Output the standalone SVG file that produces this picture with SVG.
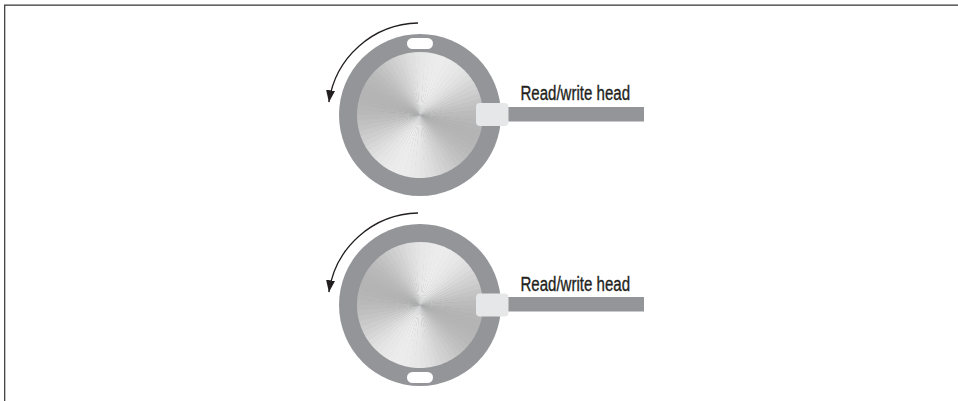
<svg xmlns="http://www.w3.org/2000/svg" width="958" height="401" viewBox="0 0 958 401">
  <style>
    .ring { fill: #939598; }
    .slot { fill: #ffffff; }
    .head { fill: #e6e7e8; }
    .arm { fill: #939598; }
    .label { font-family: "Liberation Sans", Arial, sans-serif; font-size: 19.5px; fill: #231f20; stroke: #231f20; stroke-width: 0.35; }
    .spin { fill: none; stroke: #231f20; stroke-width: 1.3; marker-end: url(#tip); }
    .frame { fill: none; stroke: #333333; stroke-width: 1.2; }
  </style>
  <defs>
    <marker id="tip" viewBox="0 0 12 9" refX="12" refY="4.5" markerWidth="12" markerHeight="9" markerUnits="userSpaceOnUse" orient="auto">
      <path d="M0,0 L12,4.5 L0,9 Z" fill="#231f20"/>
    </marker>
    <!-- one 5-degree sector of the brushed platter; colour and start angle come from each use -->
    <circle id="wedge" cx="0" cy="0" r="31.5" fill="none" stroke-width="63" pathLength="360" stroke-dasharray="5.6 354.4"/>
    <g id="half">
      <use href="#wedge" style="stroke:#b9b9b9;stroke-dashoffset:0"/>
      <use href="#wedge" style="stroke:#b7b7b7;stroke-dashoffset:-5"/>
      <use href="#wedge" style="stroke:#b5b5b5;stroke-dashoffset:-10"/>
      <use href="#wedge" style="stroke:#b4b4b4;stroke-dashoffset:-15"/>
      <use href="#wedge" style="stroke:#b4b4b4;stroke-dashoffset:-20"/>
      <use href="#wedge" style="stroke:#b5b5b5;stroke-dashoffset:-25"/>
      <use href="#wedge" style="stroke:#b7b7b7;stroke-dashoffset:-30"/>
      <use href="#wedge" style="stroke:#b9b9b9;stroke-dashoffset:-35"/>
      <use href="#wedge" style="stroke:#bcbcbc;stroke-dashoffset:-40"/>
      <use href="#wedge" style="stroke:#c0c0c0;stroke-dashoffset:-45"/>
      <use href="#wedge" style="stroke:#c4c4c4;stroke-dashoffset:-50"/>
      <use href="#wedge" style="stroke:#c9c9c9;stroke-dashoffset:-55"/>
      <use href="#wedge" style="stroke:#cecece;stroke-dashoffset:-60"/>
      <use href="#wedge" style="stroke:#d2d2d2;stroke-dashoffset:-65"/>
      <use href="#wedge" style="stroke:#d7d7d7;stroke-dashoffset:-70"/>
      <use href="#wedge" style="stroke:#dcdcdc;stroke-dashoffset:-75"/>
      <use href="#wedge" style="stroke:#e0e0e0;stroke-dashoffset:-80"/>
      <use href="#wedge" style="stroke:#e4e4e4;stroke-dashoffset:-85"/>
      <use href="#wedge" style="stroke:#e7e7e7;stroke-dashoffset:-90"/>
      <use href="#wedge" style="stroke:#e9e9e9;stroke-dashoffset:-95"/>
      <use href="#wedge" style="stroke:#ebebeb;stroke-dashoffset:-100"/>
      <use href="#wedge" style="stroke:#ececec;stroke-dashoffset:-105"/>
      <use href="#wedge" style="stroke:#ececec;stroke-dashoffset:-110"/>
      <use href="#wedge" style="stroke:#ebebeb;stroke-dashoffset:-115"/>
      <use href="#wedge" style="stroke:#e9e9e9;stroke-dashoffset:-120"/>
      <use href="#wedge" style="stroke:#e7e7e7;stroke-dashoffset:-125"/>
      <use href="#wedge" style="stroke:#e4e4e4;stroke-dashoffset:-130"/>
      <use href="#wedge" style="stroke:#e0e0e0;stroke-dashoffset:-135"/>
      <use href="#wedge" style="stroke:#dcdcdc;stroke-dashoffset:-140"/>
      <use href="#wedge" style="stroke:#d7d7d7;stroke-dashoffset:-145"/>
      <use href="#wedge" style="stroke:#d2d2d2;stroke-dashoffset:-150"/>
      <use href="#wedge" style="stroke:#cecece;stroke-dashoffset:-155"/>
      <use href="#wedge" style="stroke:#c9c9c9;stroke-dashoffset:-160"/>
      <use href="#wedge" style="stroke:#c4c4c4;stroke-dashoffset:-165"/>
      <use href="#wedge" style="stroke:#c0c0c0;stroke-dashoffset:-170"/>
      <use href="#wedge" style="stroke:#bcbcbc;stroke-dashoffset:-175"/>
    </g>
    <!-- grey rim with the brushed-metal platter inside -->
    <g id="platter">
      <circle class="ring" cx="0" cy="0" r="81"/>
      <use href="#half"/>
      <use href="#half" transform="rotate(180)"/>
    </g>
  </defs>

  <rect width="958" height="401" fill="#ffffff"/>
  <path class="frame" d="M4.7,401 V5.2 H958"/>

  <g id="disk-top">
    <use href="#platter" transform="translate(420,115)"/>
    <rect class="slot" x="407" y="38" width="26" height="11" rx="5.5"/>
    <rect class="arm" x="505" y="107" width="139" height="14.5"/>
    <rect class="head" x="476" y="103" width="32.5" height="23" rx="4"/>
    <text class="label" x="520.5" y="100" textLength="109.5" lengthAdjust="spacingAndGlyphs">Read/write head</text>
  </g>

  <g id="disk-bottom">
    <use href="#platter" transform="translate(420,305)"/>
    <rect class="slot" x="407" y="372" width="26" height="11" rx="5.5"/>
    <rect class="arm" x="505" y="297" width="139" height="14.5"/>
    <rect class="head" x="476" y="293.5" width="32.5" height="23" rx="4"/>
    <text class="label" x="520.5" y="290.5" textLength="109.5" lengthAdjust="spacingAndGlyphs">Read/write head</text>
  </g>

  <g id="connectors">
    <path class="spin" d="M418,23 A92,92 0 0 0 328.9,102.2"/>
    <path class="spin" d="M418,213 A92,92 0 0 0 328.9,292.2"/>
  </g>
</svg>
